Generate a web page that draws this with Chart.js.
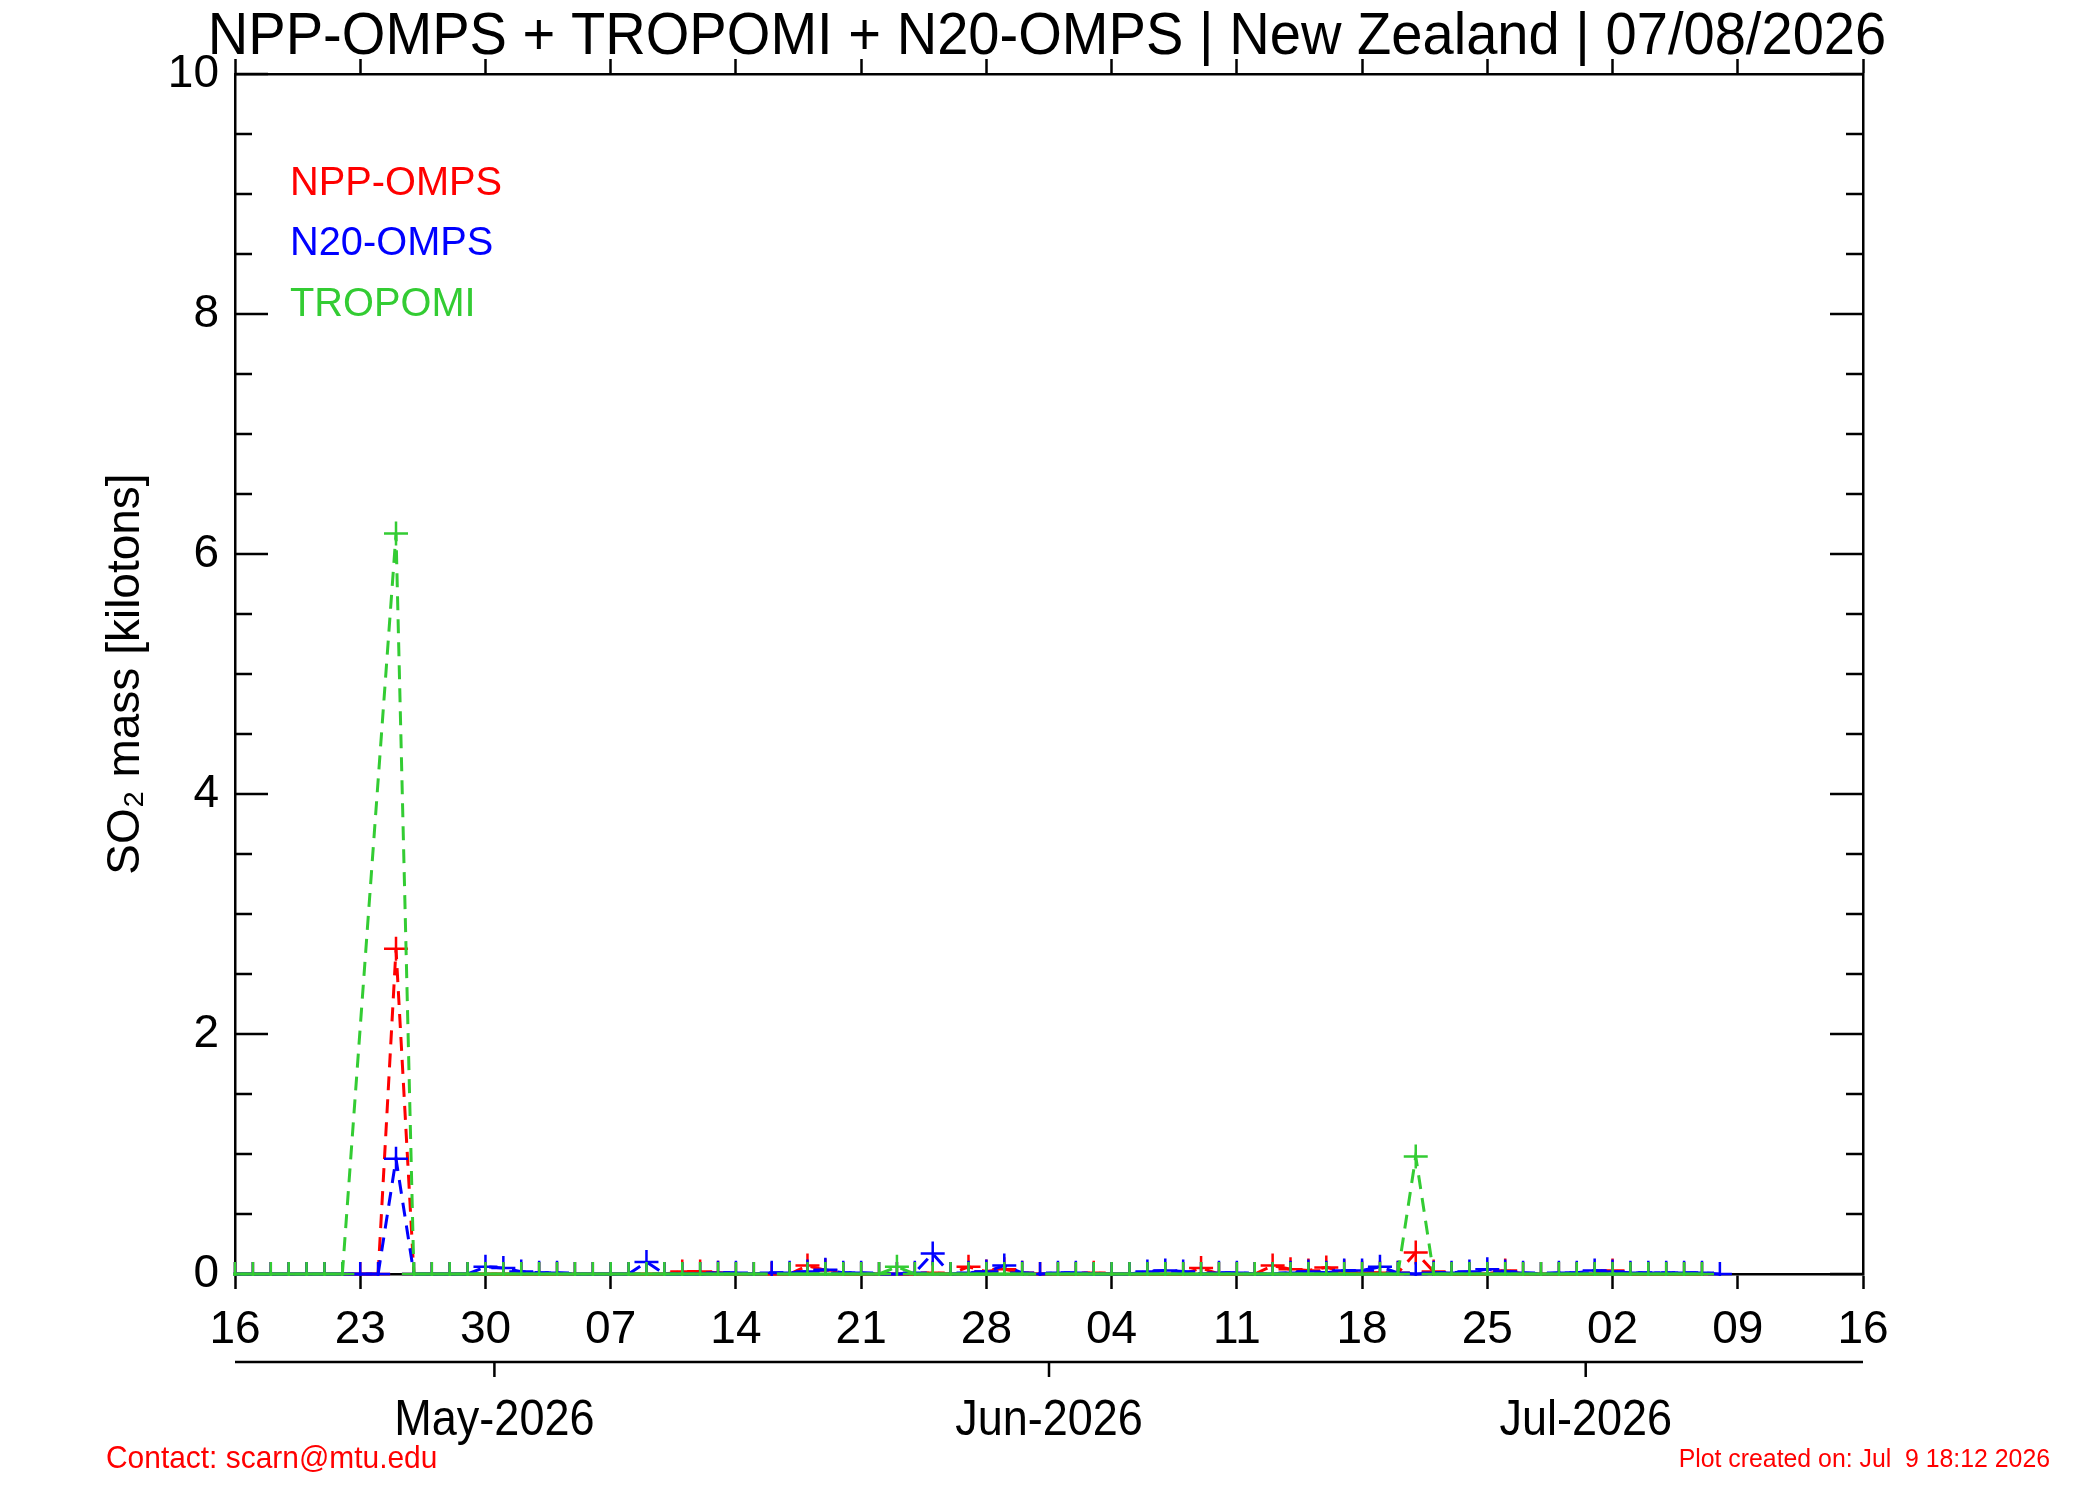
<!DOCTYPE html>
<html>
<head>
<meta charset="utf-8">
<title>SO2 mass - New Zealand</title>
<script src="https://cdn.jsdelivr.net/npm/chart.js@4.4.1/dist/chart.umd.min.js"></script>
<style>
  html, body { margin: 0; padding: 0; background: #fff; }
  #wrap { width: 2100px; height: 1500px; }
</style>
</head>
<body>
<div id="wrap"><canvas id="so2Chart" width="2100" height="1500"></canvas></div>
<script>
// day index 0 = 16 Apr 2026, one value per day up to 08 Jul 2026
const xTickDays = [0, 7, 14, 21, 28, 35, 42, 49, 56, 63, 70, 77, 84, 91];
const xTickLabels = ['16', '23', '30', '07', '14', '21', '28', '04', '11', '18', '25', '02', '09', '16'];
const monthTickDays = [14.5, 45.5, 75.5];
const monthLabels = ['May-2026', 'Jun-2026', 'Jul-2026'];
const yMajorTicks = [0, 2, 4, 6, 8, 10];
const yMinorTicks = [0.5, 1, 1.5, 2.5, 3, 3.5, 4.5, 5, 5.5, 6.5, 7, 7.5, 8.5, 9, 9.5];

const tropomi = [
    0, 0, 0, 0, 0, 0, 0,
    null, null, 6.17, 0, 0, 0, 0,
    0, 0, 0, 0, 0, 0, 0,
    0, 0, 0, 0, 0, 0, 0,
    0, 0, null, 0, 0, 0, 0,
    0, 0, 0.06, 0, 0, 0, 0,
    0, 0, 0, null, 0, 0, 0,
    0, 0, 0, 0, 0, 0, 0,
    0, 0, 0, 0, 0, 0, 0,
    0, 0, 0, 0.98, 0, 0, 0,
    0, 0, 0, 0, 0, 0, 0,
    0, 0, 0, 0, 0, 0, null
];
const nppOmps = [
    0, 0, 0, 0, 0, 0, 0,
    0, 0, 2.71, 0, 0, 0, 0,
    0, 0, 0, 0, 0, 0, 0,
    0, 0, 0, 0, 0.02, 0.02, 0.01,
    0, 0, 0, 0, 0.07, 0.03, 0,
    0, 0, 0, 0, 0.01, 0, 0.06,
    0.02, 0.04, 0.01, 0, 0, 0, 0.01,
    0, 0, 0, 0, 0, 0.05, 0,
    0, 0, 0.07, 0.04, 0.03, 0.055, 0.02,
    0.01, 0.01, 0.01, 0.18, 0.02, 0, 0,
    0, 0.03, 0, 0, 0, 0, 0,
    0.03, 0, 0, 0, 0, 0, null
];
const n20Omps = [
    0, 0, 0, 0, 0, 0, 0,
    0, 0, 0.96, 0, 0, 0, 0,
    0.06, 0.05, 0.02, 0.01, 0.01, 0, 0,
    0, 0, 0.1, 0, 0, 0, 0.01,
    0.01, 0, 0.01, 0.01, 0.02, 0.035, 0.01,
    0.01, 0, 0, 0.01, 0.17, 0, 0.01,
    0.02, 0.07, 0.01, 0, 0.01, 0.01, 0,
    0, 0, 0.02, 0.03, 0.02, 0, 0.01,
    0.01, 0, 0, 0.01, 0.02, 0.01, 0.03,
    0.03, 0.06, 0.01, 0, 0.01, 0.01, 0.02,
    0.04, 0.02, 0.01, 0, 0.01, 0.01, 0.03,
    0.02, 0.01, 0.01, 0.01, 0.01, 0.01, 0
];
const dayIndex = n20Omps.map((_, i) => i);

const FONT = "'Liberation Sans', Arial, sans-serif";
const RED = '#ff0000';
const BLUE = '#0000ff';
const GREEN = '#33cc33';

// flat zero stretches are drawn solid, everything else dashed
function segDash(ctx) {
    return (ctx.p0.parsed.y === 0 && ctx.p1.parsed.y === 0) ? [] : [14, 9];
}

function series(label, data, color) {
    return {
        label: label,
        data: data,
        borderColor: color,
        backgroundColor: color,
        borderWidth: 3,
        pointStyle: 'cross',
        pointRadius: 12,
        pointHoverRadius: 12,
        pointBorderWidth: 2.5,
        spanGaps: true,
        tension: 0,
        fill: false,
        clip: { left: 2, top: 0, right: 2, bottom: 2 },
        segment: { borderDash: segDash }
    };
}

// the IDL fonts are narrow, so squeeze the free texts with maxWidth
function narrowText(ctx, text, x, y, size, squeeze) {
    ctx.font = `${size}px ${FONT}`;
    ctx.fillText(text, x, y, ctx.measureText(text).width * squeeze);
}

// inward ticks on both y sides, month axis, texts
const idlFrame = {
    id: 'idlFrame',
    beforeDatasetsDraw(chart) {
        const { ctx, chartArea: a, scales: { y } } = chart;
        ctx.save();
        ctx.strokeStyle = '#000';
        ctx.lineWidth = 2.5;
        ctx.beginPath();
        yMajorTicks.forEach(v => {
            const py = y.getPixelForValue(v);
            ctx.moveTo(a.left, py); ctx.lineTo(a.left + 33, py);
            ctx.moveTo(a.right, py); ctx.lineTo(a.right - 33, py);
        });
        yMinorTicks.forEach(v => {
            const py = y.getPixelForValue(v);
            ctx.moveTo(a.left, py); ctx.lineTo(a.left + 17, py);
            ctx.moveTo(a.right, py); ctx.lineTo(a.right - 17, py);
        });
        ctx.stroke();
        ctx.restore();
    },
    afterDraw(chart) {
        const { ctx, chartArea: a, scales: { x } } = chart;
        ctx.save();

        // second date axis with months
        const lineY = 1362;
        ctx.strokeStyle = '#000';
        ctx.lineWidth = 2.5;
        ctx.beginPath();
        ctx.moveTo(a.left, lineY); ctx.lineTo(a.right, lineY);
        monthTickDays.forEach(d => {
            const px = x.getPixelForValue(d);
            ctx.moveTo(px, lineY); ctx.lineTo(px, lineY + 15);
        });
        ctx.stroke();
        ctx.fillStyle = '#000';
        ctx.textAlign = 'center';
        ctx.textBaseline = 'alphabetic';
        monthLabels.forEach((m, i) => {
            narrowText(ctx, m, x.getPixelForValue(monthTickDays[i]), 1435, 50, 0.9);
        });

        // title
        narrowText(ctx, 'NPP-OMPS + TROPOMI + N20-OMPS | New Zealand | 07/08/2026', 1047, 54, 60, 0.935);

        // legend
        ctx.textAlign = 'left';
        ctx.fillStyle = RED; narrowText(ctx, 'NPP-OMPS', 290, 195, 41, 0.97);
        ctx.fillStyle = BLUE; narrowText(ctx, 'N20-OMPS', 290, 255, 41, 0.97);
        ctx.fillStyle = GREEN; narrowText(ctx, 'TROPOMI', 290, 316, 41, 0.97);

        // footer
        ctx.fillStyle = RED;
        narrowText(ctx, 'Contact: scarn@mtu.edu', 106, 1468, 32, 0.935);
        ctx.textAlign = 'right';
        narrowText(ctx, 'Plot created on: Jul  9 18:12 2026', 2050, 1467, 26, 0.955);
        ctx.restore();
    }
};

function weekTicks(scale) {
    scale.ticks = xTickDays.map(v => ({ value: v }));
}

new Chart(document.getElementById('so2Chart'), {
    type: 'line',
    data: {
        labels: dayIndex,
        datasets: [
            series('TROPOMI', tropomi, GREEN),
            series('N20-OMPS', n20Omps, BLUE),
            series('NPP-OMPS', nppOmps, RED)
        ]
    },
    options: {
        responsive: false,
        devicePixelRatio: 1,
        animation: false,
        events: [],
        layout: { padding: 0 },
        plugins: {
            legend: { display: false },
            tooltip: { enabled: false },
            title: { display: false }
        },
        scales: {
            x: {
                type: 'linear',
                position: 'bottom',
                min: 0,
                max: 91,
                afterBuildTicks: weekTicks,
                afterFit: s => { s.height = 226; },
                ticks: {
                    autoSkip: false,
                    maxRotation: 0,
                    padding: 14,
                    color: '#000',
                    font: { family: FONT, size: 46 },
                    callback: (v, i) => xTickLabels[i]
                },
                grid: { drawOnChartArea: false, drawTicks: true, tickLength: 15, tickWidth: 2.5, tickColor: '#000' },
                border: { display: true, color: '#000', width: 2.5 }
            },
            x2: {
                type: 'linear',
                position: 'top',
                min: 0,
                max: 91,
                afterBuildTicks: weekTicks,
                afterFit: s => { s.height = 74; },
                ticks: { display: false },
                grid: { drawOnChartArea: false, drawTicks: true, tickLength: 15, tickWidth: 2.5, tickColor: '#000' },
                border: { display: true, color: '#000', width: 2.5 }
            },
            y: {
                position: 'left',
                min: 0,
                max: 10,
                afterFit: s => { s.width = 235; },
                ticks: {
                    stepSize: 2,
                    padding: 16,
                    color: '#000',
                    font: { family: FONT, size: 46 }
                },
                title: {
                    display: true,
                    text: 'SO\u2082 mass [kilotons]',
                    color: '#000',
                    font: { family: FONT, size: 46 },
                    padding: { top: 99, bottom: 0 }
                },
                grid: { drawOnChartArea: false, drawTicks: false },
                border: { display: true, color: '#000', width: 2.5 }
            },
            y2: {
                position: 'right',
                min: 0,
                max: 10,
                afterFit: s => { s.width = 237; },
                ticks: { display: false },
                grid: { drawOnChartArea: false, drawTicks: false },
                border: { display: true, color: '#000', width: 2.5 }
            }
        }
    },
    plugins: [idlFrame]
});
</script>
</body>
</html>
